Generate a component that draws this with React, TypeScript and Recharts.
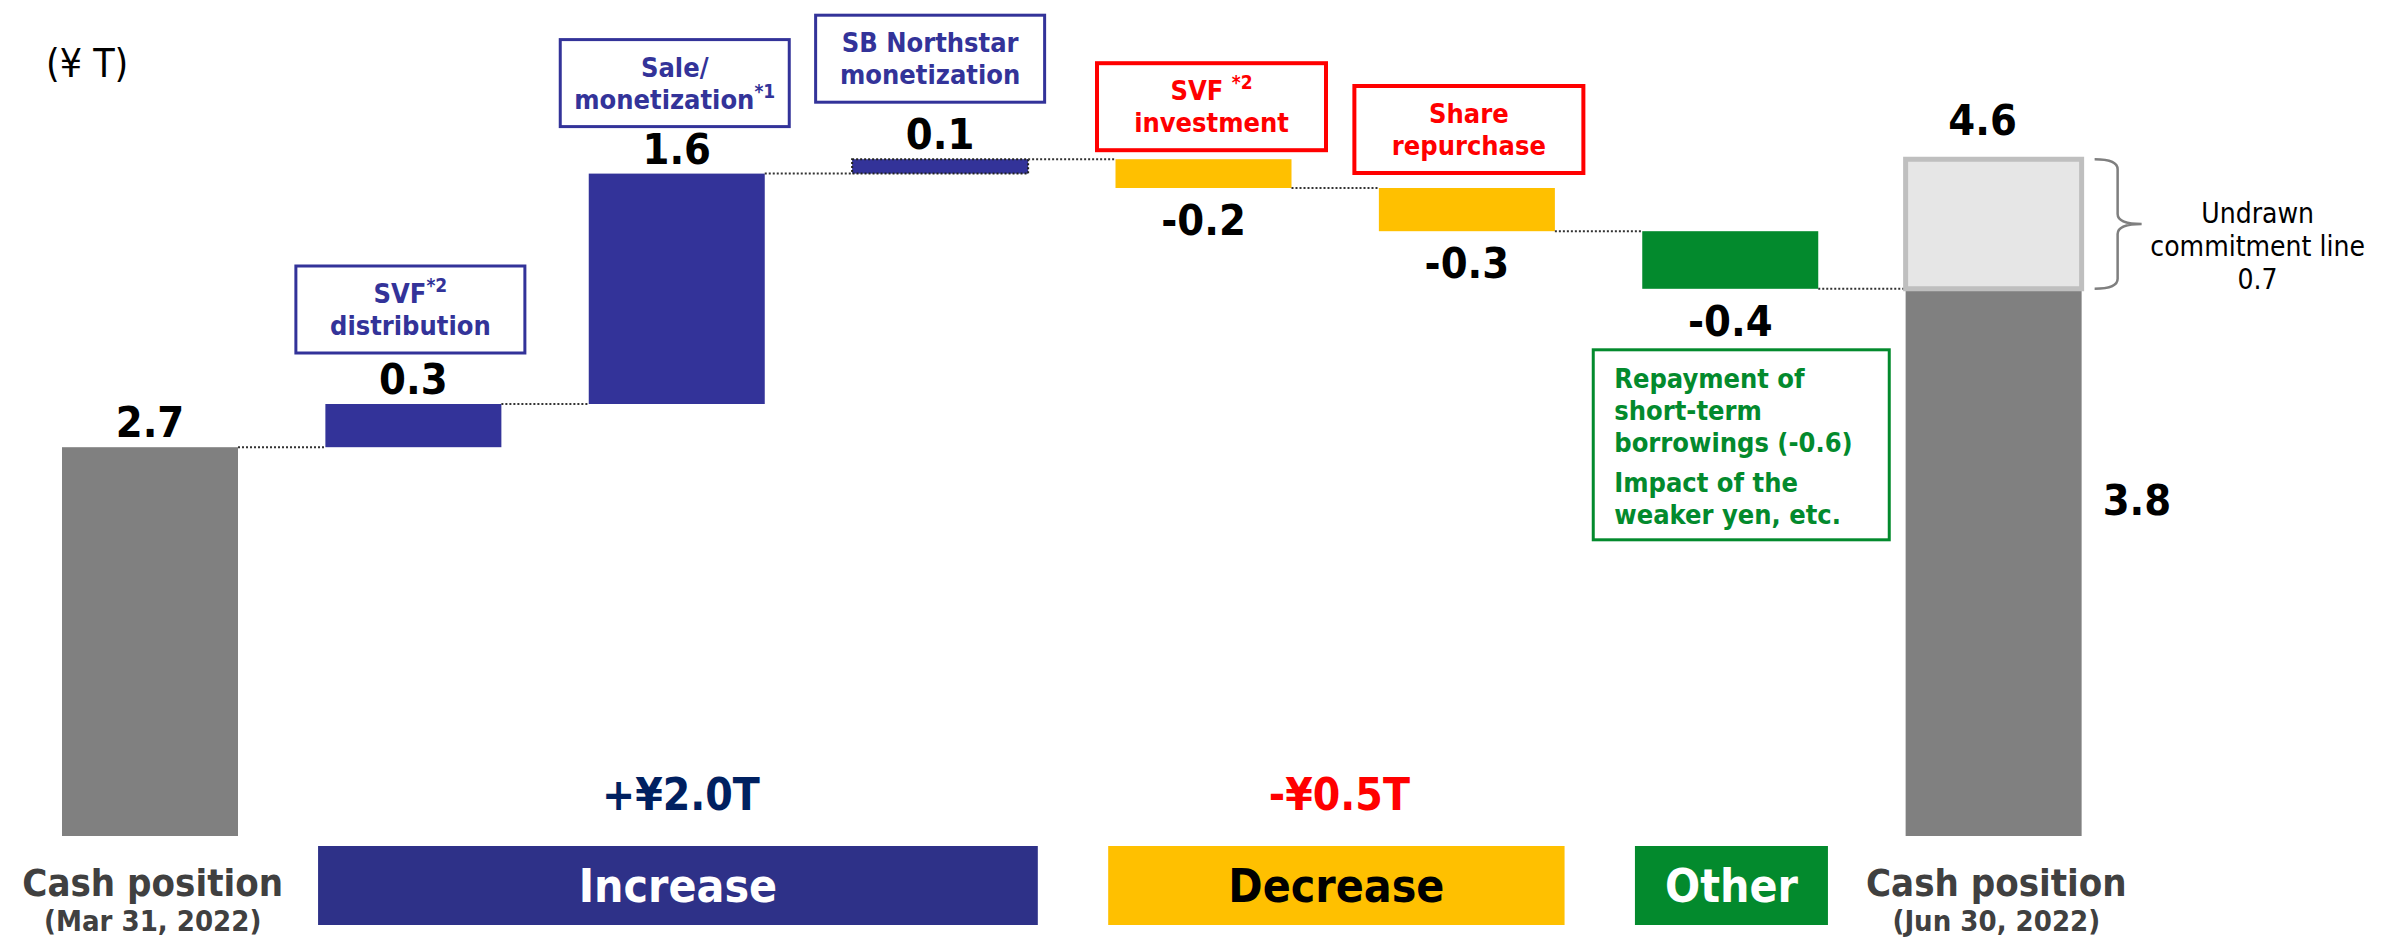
import React from 'react';
import { ComposedChart, Bar, XAxis, YAxis, LabelList } from 'recharts';

// ---- data (¥ trillion) ----
const CATEGORIES = [
  'Cash Mar 31',
  'SVF distribution',
  'Sale/monetization',
  'SB Northstar monetization',
  'SVF investment',
  'Share repurchase',
  'Other',
  'Cash Jun 30',
];
const START_CASH = 2.7;
const CHANGES = [0.3, 1.6, 0.1, -0.2, -0.3, -0.4];
const END_CASH = 3.8;
const UNDRAWN_AS_DRAWN = 0.9; // light box as drawn on top of the 3.8 bar
const VALUE_TEXT = ['2.7', '0.3', '1.6', '0.1', '-0.2', '-0.3', '-0.4', '3.8'];
const PEAK_TEXT = '4.6';
const UNDRAWN_TEXT = ['Undrawn', 'commitment line', '0.7'];
const KIND = ['total', 'up', 'up', 'up', 'down', 'down', 'other', 'total'];
const TICK_TITLE = ['Cash position', '', '', '', '', '', '', 'Cash position'];
const TICK_DATE = ['(Mar 31, 2022)', '', '', '', '', '', '', '(Jun 30, 2022)'];
const GROUP_NAME = ['', 'Increase', '', '', 'Decrease', '', 'Other', ''];
const GROUP_SPAN = [0, 3, 0, 0, 2, 0, 1, 0];
const GROUP_SUM = ['', '+¥2.0T', '', '', '-¥0.5T', '', '', ''];
// [text, superscript] per line
const NOTES: [string, string][][] = [
  [],
  [['SVF', '*2'], ['distribution', '']],
  [['Sale/', ''], ['monetization', '*1']],
  [['SB Northstar', ''], ['monetization', '']],
  [['SVF ', '*2'], ['investment', '']],
  [['Share', ''], ['repurchase', '']],
  [
    ['Repayment of', ''],
    ['short-term', ''],
    ['borrowings (-0.6)', ''],
    ['Impact of the', ''],
    ['weaker yen, etc.', ''],
  ],
  [],
];

// ---- layout / styles ----
const W = 2392;
const H = 939;
const MARGIN = { top: 116, right: 267, bottom: 3, left: 18 };
const AXIS_H = 100;
const PLOT_W = W - MARGIN.left - MARGIN.right;
const BAND = PLOT_W / CATEGORIES.length;
const BAR_W = 176;
const FONT = "'DejaVu Sans Condensed', 'DejaVu Sans', sans-serif";
const FILL: Record<string, string> = { total: '#808080', up: '#333399', down: '#ffc000', other: '#038a2d' };
const NOTE_COLOR: Record<string, string> = { up: '#333399', down: '#ff0000', other: '#038a2d' };
const GROUP_FILL: Record<string, string> = { Increase: '#2e3188', Decrease: '#ffc000', Other: '#038a2d' };
const GROUP_TEXT: Record<string, string> = { Increase: '#ffffff', Decrease: '#000000', Other: '#ffffff' };
const SUM_COLOR: Record<string, string> = { Increase: '#002060', Decrease: '#ff0000' };
const NOTE_DX = [0, -3, -2, -10, 8, 2, 0, 0];
const NOTE_GAP = [0, 51, 47, 57, 9, 15, 61, 0];

// build waterfall rows
const rows = CATEGORIES.map((cat, i) => {
  if (i === 0) return { cat, idx: i, base: 0, delta: START_CASH, down: false, undrawn: null as number | null };
  if (i === CATEGORIES.length - 1)
    return { cat, idx: i, base: 0, delta: END_CASH, down: false, undrawn: UNDRAWN_AS_DRAWN };
  const prev = START_CASH + CHANGES.slice(0, i - 1).reduce((a, b) => a + b, 0);
  const c = CHANGES[i - 1];
  return { cat, idx: i, base: Math.min(prev, prev + c), delta: Math.abs(c), down: c < 0, undrawn: null };
});

const DeltaShape = (props: any) => {
  const { x, y, width, height, payload } = props;
  const i = payload.idx;
  const level = payload.down ? y + height : y;
  return (
    <g>
      <rect
        x={x}
        y={y}
        width={width}
        height={height}
        fill={FILL[KIND[i]]}
        stroke={i === 3 ? '#222' : 'none'}
        strokeWidth={2}
        strokeDasharray="2 2"
      />
      {i < CATEGORIES.length - 1 && (
        <line x1={x + width} x2={x + BAND} y1={level} y2={level} stroke="#333" strokeWidth={2} strokeDasharray="2 2" />
      )}
    </g>
  );
};

const NoteLines = ({ lines, x, top, anchor, color, offsets }: any) => (
  <g>
    {lines.map(([t, sup]: [string, string], k: number) => (
      <text
        key={k}
        x={x}
        y={top + offsets[k]}
        textAnchor={anchor}
        fill={color}
        fontFamily={FONT}
        fontWeight="bold"
        fontSize={27}
      >
        {t}
        {sup && (
          <tspan fontSize={19} dy={-11}>
            {sup}
          </tspan>
        )}
      </text>
    ))}
  </g>
);

const renderDeltaLabel = (props: any) => {
  const { x, y, width, height, value } = props;
  if (x == null) return null;
  const i = Number(value);
  const row = rows[i];
  const cx = x + width / 2;
  let vx = cx;
  let vy = y - 10;
  let anchor = 'middle';
  if (i === CATEGORIES.length - 1) {
    vx = x + width + 21;
    vy = y + 226;
    anchor = 'start';
  } else if (row.down) {
    vy = y + height + 47;
  }
  const notes = NOTES[i];
  let note = null;
  if (notes.length && KIND[i] !== 'other') {
    const bw = 229;
    const bh = 87;
    const bx = cx + NOTE_DX[i] - bw / 2;
    const by = y - NOTE_GAP[i] - bh;
    note = (
      <g>
        <rect x={bx} y={by} width={bw} height={bh} fill="#fff" stroke={NOTE_COLOR[KIND[i]]} strokeWidth={KIND[i] === 'down' ? 4 : 3} />
        <NoteLines lines={notes} x={bx + bw / 2} top={by} anchor="middle" color={NOTE_COLOR[KIND[i]]} offsets={[37, 69]} />
      </g>
    );
  } else if (notes.length) {
    const bx = x - 49;
    const by = y + height + 61;
    note = (
      <g>
        <rect x={bx} y={by} width={296} height={190} fill="#fff" stroke={NOTE_COLOR.other} strokeWidth={3} />
        <NoteLines lines={notes} x={bx + 21} top={by} anchor="start" color={NOTE_COLOR.other} offsets={[38, 70, 102, 142, 174]} />
      </g>
    );
  }
  return (
    <g>
      {note}
      <text x={vx} y={vy} textAnchor={anchor as any} fontFamily={FONT} fontWeight="bold" fontSize={43} fill="#000">
        {VALUE_TEXT[i]}
      </text>
    </g>
  );
};

const renderUndrawnLabel = (props: any) => {
  const { x, y, width, height, value } = props;
  if (x == null || Number(value) !== CATEGORIES.length - 1 || !height) return null;
  const right = x + width;
  const x0 = right + 13;
  const x1 = x0 + 23;
  const tip = x0 + 47;
  const top = y;
  const bot = y + height;
  const mid = (top + bot) / 2;
  const r = 10;
  const d = `M ${x0} ${top} Q ${x1} ${top} ${x1} ${top + r} L ${x1} ${mid - r} Q ${x1} ${mid} ${tip} ${mid} Q ${x1} ${mid} ${x1} ${mid + r} L ${x1} ${bot - r} Q ${x1} ${bot} ${x0} ${bot}`;
  return (
    <g>
      <text x={x + width / 2 - 11} y={y - 24} textAnchor="middle" fontFamily={FONT} fontWeight="bold" fontSize={43} fill="#000">
        {PEAK_TEXT}
      </text>
      <path d={d} fill="none" stroke="#7f7f7f" strokeWidth={2.5} />
      {UNDRAWN_TEXT.map((t, k) => (
        <text key={k} x={right + 176} y={y + 64 + k * 33} textAnchor="middle" fontFamily={FONT} fontSize={28} fill="#000">
          {t}
        </text>
      ))}
    </g>
  );
};

const CategoryTick = (props: any) => {
  const { x, y, payload } = props;
  const i = CATEGORIES.indexOf(payload.value);
  const g = GROUP_NAME[i];
  return (
    <g>
      {TICK_TITLE[i] && (
        <>
          <text x={x + 3} y={y + 60} textAnchor="middle" fontFamily={FONT} fontWeight="bold" fontSize={38} fill="#404040">
            {TICK_TITLE[i]}
          </text>
          <text x={x + 3} y={y + 95} textAnchor="middle" fontFamily={FONT} fontWeight="bold" fontSize={29} fill="#404040">
            {TICK_DATE[i]}
          </text>
        </>
      )}
      {g && (() => {
        const left = x - BAR_W / 2 - 7;
        const right = x + (GROUP_SPAN[i] - 1) * BAND + BAR_W / 2 + 10;
        const mid = (left + right) / 2;
        return (
          <g>
            <rect x={left} y={y + 10} width={right - left} height={79} fill={GROUP_FILL[g]} />
            <text x={mid} y={y + 66} textAnchor="middle" fontFamily={FONT} fontWeight="bold" fontSize={46} fill={GROUP_TEXT[g]}>
              {g}
            </text>
            {GROUP_SUM[i] && (
              <text x={mid + 3} y={y - 26} textAnchor="middle" fontFamily={FONT} fontWeight="bold" fontSize={44} fill={SUM_COLOR[g]}>
                {GROUP_SUM[i]}
              </text>
            )}
          </g>
        );
      })()}
    </g>
  );
};

export default function App() {
  return (
    <div style={{ position: 'relative', width: W, height: H, background: '#fff' }}>
      <style>{'body{margin:0}'}</style>
      <div
        style={{
          position: 'absolute',
          left: 46,
          top: 40,
          fontFamily: FONT,
          fontSize: 39,
          color: '#000',
          lineHeight: '48px',
        }}
      >
        (¥ T)
      </div>
      <ComposedChart width={W} height={H} data={rows} margin={MARGIN} barSize={BAR_W}>
        <XAxis
          dataKey="cat"
          interval={0}
          axisLine={false}
          tickLine={false}
          tickSize={0}
          tickMargin={0}
          height={AXIS_H}
          tick={<CategoryTick />}
        />
        <YAxis hide domain={[0, 5]} type="number" allowDataOverflow />
        <Bar dataKey="base" stackId="w" fill="transparent" isAnimationActive={false} />
        <Bar dataKey="delta" stackId="w" shape={<DeltaShape />} isAnimationActive={false}>
          <LabelList dataKey="idx" content={renderDeltaLabel} />
        </Bar>
        <Bar dataKey="undrawn" stackId="w" fill="#e6e6e6" stroke="#bfbfbf" strokeWidth={5} isAnimationActive={false}>
          <LabelList dataKey="idx" content={renderUndrawnLabel} />
        </Bar>
      </ComposedChart>
    </div>
  );
}
